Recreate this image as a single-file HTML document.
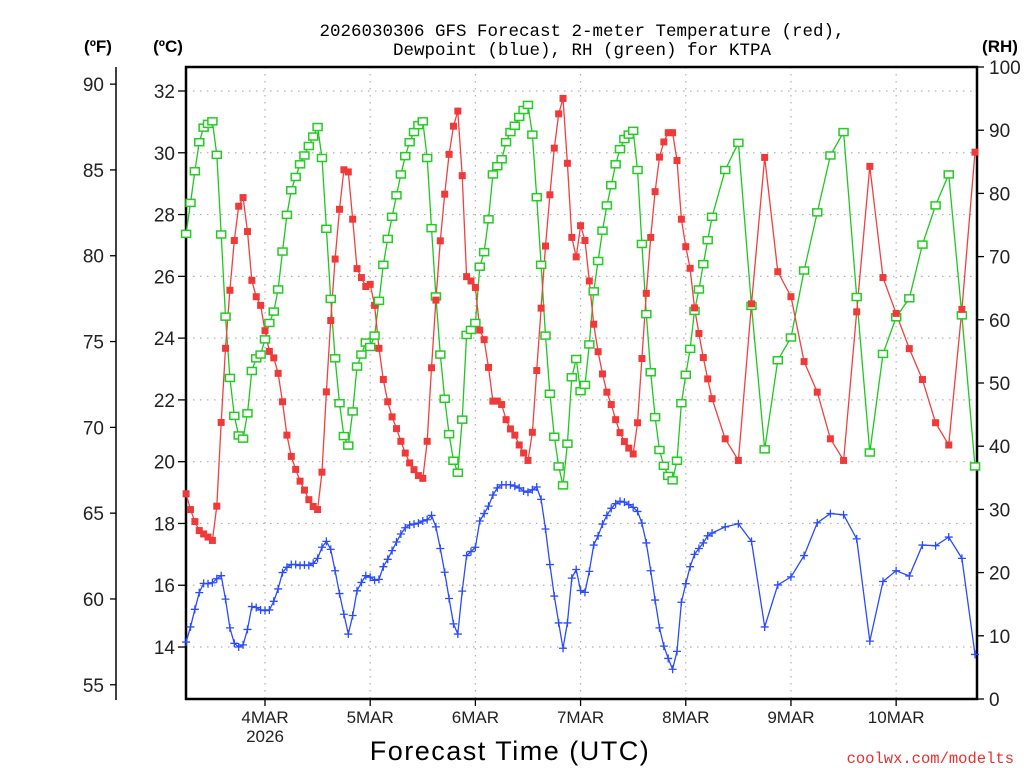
<!DOCTYPE html>
<html><head><meta charset="utf-8"><style>
body{margin:0;background:#fff;width:1024px;height:768px;overflow:hidden}
svg{display:block}
text{font-family:"Liberation Sans",sans-serif}
.mono{font-family:"Liberation Mono",monospace}
</style></head><body>
<svg id="chart" width="1024" height="768" viewBox="0 0 1024 768" xmlns="http://www.w3.org/2000/svg">
<g id="grid"></g>
<g id="axes"></g>
<g id="series"></g>
<text class="mono" x="582" y="36" font-size="17.5" text-anchor="middle">2026030306 GFS Forecast 2-meter Temperature (red),</text>
<text class="mono" x="582" y="55" font-size="17.5" text-anchor="middle">Dewpoint (blue), RH (green) for KTPA</text>
<text x="98" y="52" font-size="17" font-weight="bold" text-anchor="middle">(ºF)</text>
<text x="168" y="52" font-size="17" font-weight="bold" text-anchor="middle">(ºC)</text>
<text x="1000" y="52" font-size="17" font-weight="bold" text-anchor="middle">(RH)</text>
<text x="510" y="760" font-size="27" text-anchor="middle" letter-spacing="1.5">Forecast Time (UTC)</text>
<text class="mono" x="1014" y="763" font-size="15.5" fill="#e83030" text-anchor="end">coolwx.com/modelts</text>
</svg>
<script>
// forecast hours: hourly 0..120, then 3-hourly to 180
const hours = [];
for (let h = 0; h <= 120; h++) hours.push(h);
for (let h = 123; h <= 180; h += 3) hours.push(h);

const tempC = [18.96,18.45,18.06,17.77,17.66,17.56,17.45,18.56,21.27,23.67,25.55,27.16,28.27,28.55,27.45,25.87,25.34,25.06,24.24,23.57,23.36,22.86,21.94,20.86,20.17,19.75,19.37,19.08,18.77,18.55,18.45,19.66,22.26,24.57,26.56,28.17,29.45,29.38,27.85,26.25,25.96,25.67,25.74,25.06,23.67,22.66,21.94,21.45,21.07,20.66,20.28,19.96,19.74,19.55,19.46,20.66,23.04,25.23,27.15,28.66,29.95,
30.86,31.35,29.26,25.99,25.85,25.64,24.26,23.95,23.05,21.96,21.96,21.85,21.36,21.06,20.86,20.54,20.28,20.04,20.95,22.95,24.97,26.98,28.64,30.15,31.26,31.76,29.66,27.26,26.63,27.64,27.16,25.85,24.45,23.56,22.84,22.25,21.85,21.36,20.94,20.65,20.44,20.25,21.26,23.34,25.45,27.26,28.74,29.86,30.35,30.65,30.65,29.75,27.85,26.96,26.26,24.98,24.15,23.37,22.68,
22.04,20.74,20.04,25.11,29.85,26.15,25.34,23.24,22.25,20.74,20.04,24.85,29.56,25.96,24.80,23.66,22.66,21.26,20.54,24.93,30.02];

const dewC = [14.16,14.65,15.22,15.76,16.06,16.05,16.08,16.21,16.31,15.55,14.62,14.12,14.00,14.07,14.57,15.31,15.28,15.20,15.18,15.20,15.48,15.88,16.41,16.58,16.67,16.67,16.64,16.66,16.64,16.71,16.87,17.23,17.42,17.16,16.47,15.73,15.06,14.42,15.02,15.82,16.09,16.31,16.26,16.16,16.19,16.60,16.84,17.12,17.40,17.66,17.86,17.95,17.98,18.01,18.08,18.12,18.26,17.89,17.19,16.42,15.57,
14.75,14.42,15.81,16.96,17.09,17.23,18.08,18.32,18.56,18.92,19.15,19.25,19.25,19.25,19.21,19.15,19.05,19.01,19.09,19.18,18.78,17.82,16.67,15.65,14.78,13.96,14.78,16.23,16.51,15.83,15.77,16.45,17.30,17.60,17.98,18.26,18.49,18.64,18.72,18.69,18.61,18.52,18.39,18.01,17.37,16.47,15.52,14.62,14.03,13.63,13.28,13.86,15.45,16.05,16.60,17.00,17.19,17.37,17.60,
17.69,17.89,17.99,17.42,14.65,16.01,16.27,16.96,18.02,18.32,18.28,17.50,14.19,16.12,16.47,16.30,17.30,17.28,17.56,16.87,13.76];

const rh = [73.6,78.5,83.5,88.1,90.4,91.0,91.4,86.1,73.5,60.5,50.8,44.8,41.7,41.2,45.2,51.9,53.9,54.5,56.9,59.5,61.3,64.8,70.8,76.6,80.5,82.6,84.6,86.0,87.5,89.0,90.5,85.6,74.4,63.3,53.9,46.8,41.6,40.1,45.5,52.6,54.5,56.4,55.7,57.5,63.0,68.7,72.8,76.3,79.7,83.0,85.9,88.1,89.7,90.8,91.4,85.6,74.5,63.7,54.5,47.5,41.9,
37.7,35.8,44.2,57.6,58.4,59.5,68.4,70.7,75.9,83.0,84.3,85.4,88.1,89.7,90.7,92.1,93.2,94.0,89.3,79.4,68.7,57.5,48.3,41.5,36.8,33.8,40.4,50.9,53.8,48.7,49.7,56.1,64.5,69.3,74.1,78.1,81.3,84.6,87.0,88.6,89.3,89.9,83.7,72.0,60.9,51.7,44.6,39.4,36.9,35.3,34.6,37.7,46.8,51.3,55.4,61.4,64.8,68.8,72.6,
76.3,83.7,88.0,62.2,39.5,53.6,57.2,67.8,77.0,86.0,89.7,63.6,39.0,54.6,60.4,63.4,71.9,78.1,83.0,60.7,36.8];

const cTicks = [14,16,18,20,22,24,26,28,30,32];
const fTicks = [55,60,65,70,75,80,85,90];
const rhTicks = [0,10,20,30,40,50,60,70,80,90,100];
const dateTicks = [18,42,66,90,114,138,162];
const dateLabels = ["4MAR","5MAR","6MAR","7MAR","8MAR","9MAR","10MAR"];

const L=186,R=977,T=67,B=699;
const xS = h => 186.1 + h*4.383;
const yC = c => 91 + (32-c)*30.89;
const yF = f => yC((f-32)*5/9);
const yRH = r => 699 - r*6.32;
const NS="http://www.w3.org/2000/svg";
function mk(tag, attrs, parent){const e=document.createElementNS(NS,tag);for(const k in attrs)e.setAttribute(k,attrs[k]);parent.appendChild(e);return e;}
const grid=document.getElementById('grid'), axes=document.getElementById('axes'), series=document.getElementById('series');

cTicks.forEach(c=>{
  const y=yC(c);
  const g=mk('line',{x1:L,x2:R,y1:y,y2:y,stroke:'#b0b0b0','stroke-width':1.2,'stroke-dasharray':'1.5 5.5'},grid);
  
  
  const t=mk('line',{x1:178,x2:L,y1:y,y2:y,stroke:'#000','stroke-width':1.3},axes);
  
  
  const tx=mk('text',{x:175,y:y+7,'font-size':19,'text-anchor':'end',fill:'#222'},axes);
  tx.textContent=c;
  
  
});
dateTicks.forEach((h,i)=>{
  const x=xS(h);
  const g=mk('line',{x1:x,x2:x,y1:T,y2:B,stroke:'#b0b0b0','stroke-width':1.2,'stroke-dasharray':'1.5 5.5'},grid);
  
  
  const t=mk('line',{x1:x,x2:x,y1:B,y2:B+7,stroke:'#000','stroke-width':1.3},axes);
  
  
  const tx=mk('text',{x:x,y:723,'font-size':17,'text-anchor':'middle',fill:'#222'},axes);
  tx.textContent=dateLabels[i];
  
  
});
const yr=mk('text',{x:xS(18),y:742,'font-size':17,'text-anchor':'middle',fill:'#222'},axes);
yr.textContent='2026';



const fl=mk('line',{x1:116,x2:116,y1:67,y2:700,stroke:'#000','stroke-width':1.5},axes);


fTicks.forEach(f=>{
  const y=yF(f);
  const t=mk('line',{x1:110,x2:116,y1:y,y2:y,stroke:'#000','stroke-width':1.3},axes);
  
  
  const tx=mk('text',{x:104,y:y+7,'font-size':19,'text-anchor':'end',fill:'#222'},axes);
  tx.textContent=f;
  
  
});
rhTicks.forEach(r=>{
  const y=yRH(r);
  const t=mk('line',{x1:R,x2:984,y1:y,y2:y,stroke:'#000','stroke-width':1.3},axes);
  
  
  const tx=mk('text',{x:989,y:y+7,'font-size':19,fill:'#222'},axes);
  tx.textContent=r;
  
  
});
const box=mk('path',{d:`M${L},${T}H${R}V${B}H${L}Z`,fill:'none',stroke:'#000','stroke-width':2.5},axes);



function drawLine(vals, yf, color, name){
  const pts=hours.map((h,i)=>xS(h).toFixed(1)+','+yf(vals[i]).toFixed(1)).join(' ');
  const p=mk('polyline',{points:pts,fill:'none',stroke:color,'stroke-width':1.3},series);
  
  
}
drawLine(rh,yRH,'#1ec81e','rh-line');
drawLine(tempC,yC,'#f04040','temperature-line');
drawLine(dewC,yC,'#2a4bff','dewpoint-line');
hours.forEach((h,i)=>{
  const x=xS(h);
  let y=yRH(rh[i]);
  const g=mk('rect',{x:x-4.5,y:y-3.5,width:9,height:7,fill:'#fff',stroke:'#22cc22','stroke-width':1.5},series);
  
  
  y=yC(tempC[i]);
  const r=mk('rect',{x:x-3.5,y:y-3.5,width:7,height:7,fill:'#f03a3a'},series);
  
  
  y=yC(dewC[i]);
  const d=mk('path',{d:`M${x-4},${y}H${x+4}M${x},${y-4}V${y+4}`,stroke:'#2a4bff','stroke-width':1.3},series);
  
  
});
</script>
</body></html>
